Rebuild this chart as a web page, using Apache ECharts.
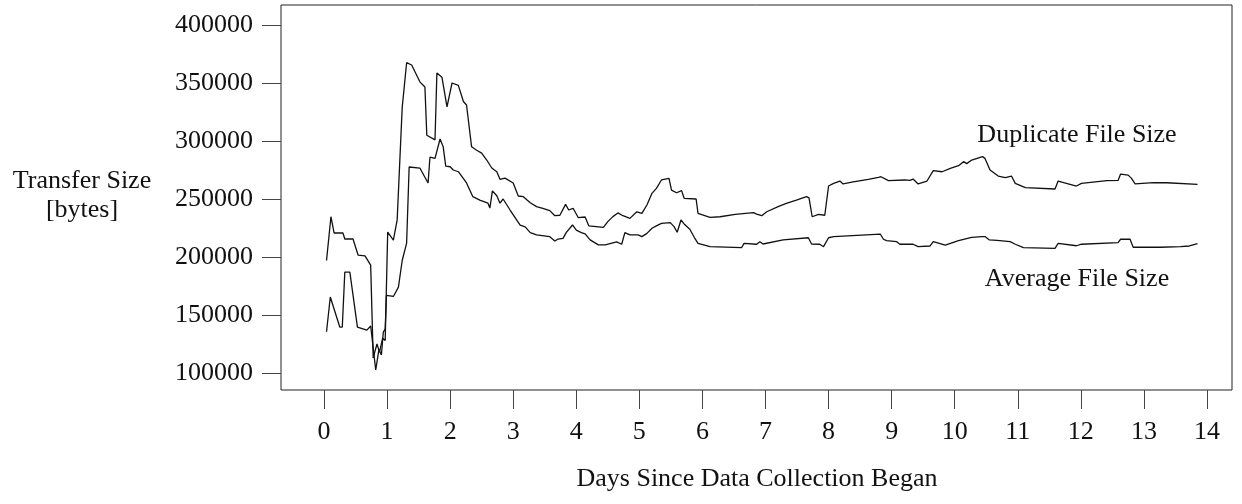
<!DOCTYPE html>
<html>
<head>
<meta charset="utf-8">
<script src="https://cdn.jsdelivr.net/npm/echarts@6/dist/echarts.min.js"></script>
<style>
    html, body { margin: 0; padding: 0; background: #fff; }
    #chart { width: 1242px; height: 504px; }
</style>
</head>
<body>
<div id="chart"></div>
<script>
// ticks
const dayTicks = [0, 1, 2, 3, 4, 5, 6, 7, 8, 9, 10, 11, 12, 13, 14];
const sizeTicks = [100000, 150000, 200000, 250000, 300000, 350000, 400000];

// Duplicate File Size
const dupDays = [0.04, 0.11, 0.16, 0.30, 0.33, 0.46, 0.54, 0.65, 0.74, 0.78, 0.84, 0.88, 0.93, 0.97,
    1.01, 1.10, 1.16, 1.24, 1.31, 1.39, 1.52, 1.60, 1.63, 1.76, 1.79, 1.87, 1.95,
    2.03, 2.13, 2.21, 2.26, 2.34, 2.42, 2.50, 2.58, 2.66, 2.74, 2.79, 2.87,
    3.00, 3.08, 3.16, 3.27, 3.37, 3.47, 3.58, 3.66, 3.74, 3.83, 3.88, 3.95,
    4.03, 4.14, 4.20, 4.43, 4.50, 4.58, 4.66, 4.74, 4.85, 4.96,
    5.04, 5.12, 5.20, 5.27, 5.35, 5.47, 5.51, 5.59, 5.67, 5.71, 5.90, 5.93,
    6.12, 6.28, 6.52, 6.81, 6.86, 6.94, 7.02, 7.20, 7.33, 7.49, 7.65, 7.69, 7.74, 7.84, 7.94,
    8.00, 8.08, 8.18, 8.23, 8.39, 8.63, 8.79, 8.83, 8.95, 9.21, 9.29, 9.34, 9.42, 9.56, 9.66, 9.80, 9.93,
    10.06, 10.14, 10.19, 10.27, 10.44, 10.48, 10.56, 10.69, 10.80, 10.90, 10.96,
    11.12, 11.59, 11.64, 11.93, 12.01, 12.41, 12.59, 12.63, 12.75, 12.80, 12.86,
    13.15, 13.36, 13.85];
const dupSize = [197000, 234700, 220700, 220700, 215500, 215500, 201700, 201000, 193000, 113000, 125000, 118000, 130000, 128000,
    221500, 214600, 232000, 329000, 367500, 365500, 351000, 346500, 305000, 301000, 358600, 355000, 329500,
    350000, 348000, 334000, 331000, 295000, 292000, 289600, 283600, 276700, 273500, 267000, 268000,
    263800, 252600, 252000, 246800, 243400, 242000, 240000, 235600, 236000, 245400, 240500, 242000,
    234000, 234500, 226800, 225600, 230500, 234800, 238000, 235600, 233300, 239000,
    237600, 244800, 254900, 259200, 266400, 267800, 257700, 255400, 257200, 250600, 250000, 237600,
    234200, 234700, 236800, 238200, 237000, 235600, 239000, 243400, 246300, 249100, 252000, 251000, 234700, 236800, 236000,
    261200, 263500, 265500, 263000, 264700, 267000, 268700, 269200, 265800, 266400, 266000, 267200, 263000, 265500, 274400, 273500, 276400,
    278700, 282200, 280500, 283600, 286500, 285000, 275000, 269800, 268400, 269800, 263500,
    259800, 258600, 265500, 261200, 263500, 265800, 266000, 271500, 270600, 268000, 263000,
    264100, 264000, 262600];

// Average File Size
const avgDays = [0.04, 0.10, 0.13, 0.25, 0.29, 0.33, 0.41, 0.53, 0.68, 0.74, 0.82, 0.87, 0.91, 0.94, 0.97, 0.99,
    1.10, 1.18, 1.24, 1.31, 1.35, 1.52, 1.65, 1.68, 1.76, 1.84, 1.89, 1.93,
    2.00, 2.05, 2.13, 2.26, 2.36, 2.47, 2.60, 2.63, 2.67, 2.74, 2.79, 2.84, 2.95,
    3.11, 3.19, 3.27, 3.37, 3.58, 3.66, 3.71, 3.79, 3.84, 3.87, 3.94,
    4.00, 4.08, 4.14, 4.22, 4.35, 4.46, 4.64, 4.72, 4.77, 4.85, 4.98,
    5.04, 5.12, 5.20, 5.27, 5.35, 5.49, 5.55, 5.60, 5.66, 5.71, 5.80, 5.87, 5.93,
    6.12, 6.62, 6.66, 6.86, 6.91, 6.96, 7.28, 7.68, 7.73, 7.86, 7.92,
    8.00, 8.08, 8.82, 8.87, 8.92, 9.08, 9.13, 9.34, 9.42, 9.61, 9.66, 9.85,
    10.06, 10.27, 10.43, 10.48, 10.55, 10.67, 10.88, 10.96,
    11.09, 11.59, 11.64, 11.93, 12.01, 12.59, 12.63, 12.78, 12.83,
    13.26, 13.58, 13.72, 13.85];
const avgSize = [135600, 165500, 165500, 139600, 139600, 187000, 187000, 139600, 137000, 140500, 102600, 120000, 115500, 135000, 138000, 167000,
    166000, 174000, 197000, 212000, 277600, 276700, 263800, 286000, 285000, 301700, 295000, 278400,
    277800, 275000, 273500, 263800, 252000, 249000, 246400, 242200, 257000, 252800, 246400, 250000, 240500,
    227500, 226000, 221000, 219000, 217500, 213800, 215500, 216100, 221000, 221000, 227600,
    223200, 221000, 220000, 214800, 210500, 210500, 213000, 211000, 221000, 219000, 219000,
    217600, 220400, 224800, 226800, 229000, 229600, 226200, 221300, 231900, 228500, 223900, 217000, 211800,
    208900, 208000, 211800, 211000, 213200, 211200, 214700, 216600, 211200, 211000, 208900,
    216600, 217600, 219800, 215300, 214100, 213200, 211000, 211000, 208900, 209500, 213200, 210300,
    214100, 217000, 217600, 217600, 214700, 214300, 213200, 211000,
    208000, 207500, 211800, 209700, 211000, 212400, 215300, 215300, 208400,
    208400, 208900, 209500, 211500];

const zip = (xs, ys) => xs.map((x, i) => [x, ys[i]]);

const font = '"Liberation Serif", "Times New Roman", serif';
const ink = '#111';

const chart = echarts.init(document.getElementById('chart'));

const textEl = (text, x, y) => ({
    type: 'text',
    x: x,
    y: y,
    style: {
        text: text,
        font: '26px ' + font,
        fill: ink,
        textAlign: 'center',
        textVerticalAlign: 'middle'
    }
});

const tickStyle = { show: true, inside: false, length: 19, lineStyle: { color: '#444', width: 1 } };

const option = {
    animation: false,
    backgroundColor: '#fff',
    grid: [
        // data area (0..14 days, 100000..400000 bytes)
        { left: 324, right: 35, top: 25, bottom: 131 },
        // outer frame
        { left: 281, right: 10, top: 5, bottom: 114, show: true, borderColor: '#222', borderWidth: 1, backgroundColor: 'transparent' },
        // y scale sitting on the frame's left edge
        { left: 281, right: 35, top: 25, bottom: 131 }
    ],
    xAxis: [
        {
            type: 'value',
            gridIndex: 0,
            min: dayTicks[0],
            max: dayTicks[dayTicks.length - 1],
            interval: 1,
            offset: 17,
            axisLine: { show: false },
            axisTick: tickStyle,
            axisLabel: { margin: 29, fontFamily: font, fontSize: 26, color: ink },
            splitLine: { show: false }
        },
        { type: 'value', gridIndex: 1, show: false, min: 0, max: 1 },
        { type: 'value', gridIndex: 2, show: false, min: 0, max: 1 }
    ],
    yAxis: [
        {
            type: 'value',
            gridIndex: 0,
            show: false,
            min: sizeTicks[0],
            max: sizeTicks[sizeTicks.length - 1]
        },
        { type: 'value', gridIndex: 1, show: false, min: 0, max: 1 },
        {
            type: 'value',
            gridIndex: 2,
            min: sizeTicks[0],
            max: sizeTicks[sizeTicks.length - 1],
            interval: 50000,
            axisLine: { show: false },
            axisTick: tickStyle,
            axisLabel: { margin: 28, fontFamily: font, fontSize: 26, color: ink, formatter: v => String(v) },
            splitLine: { show: false }
        }
    ],
    series: [
        {
            name: 'Duplicate File Size',
            type: 'line',
            xAxisIndex: 0,
            yAxisIndex: 0,
            data: zip(dupDays, dupSize),
            showSymbol: false,
            lineStyle: { color: ink, width: 1.3 }
        },
        {
            name: 'Average File Size',
            type: 'line',
            xAxisIndex: 0,
            yAxisIndex: 0,
            data: zip(avgDays, avgSize),
            showSymbol: false,
            lineStyle: { color: ink, width: 1.3 }
        }
    ],
    graphic: [
        textEl('Transfer Size', 82, 181),
        textEl('[bytes]', 82, 210),
        textEl('Days Since Data Collection Began', 757, 479),
        textEl('Duplicate File Size', 1077, 135),
        textEl('Average File Size', 1077, 279)
    ]
};

chart.setOption(option);
</script>
</body>
</html>
